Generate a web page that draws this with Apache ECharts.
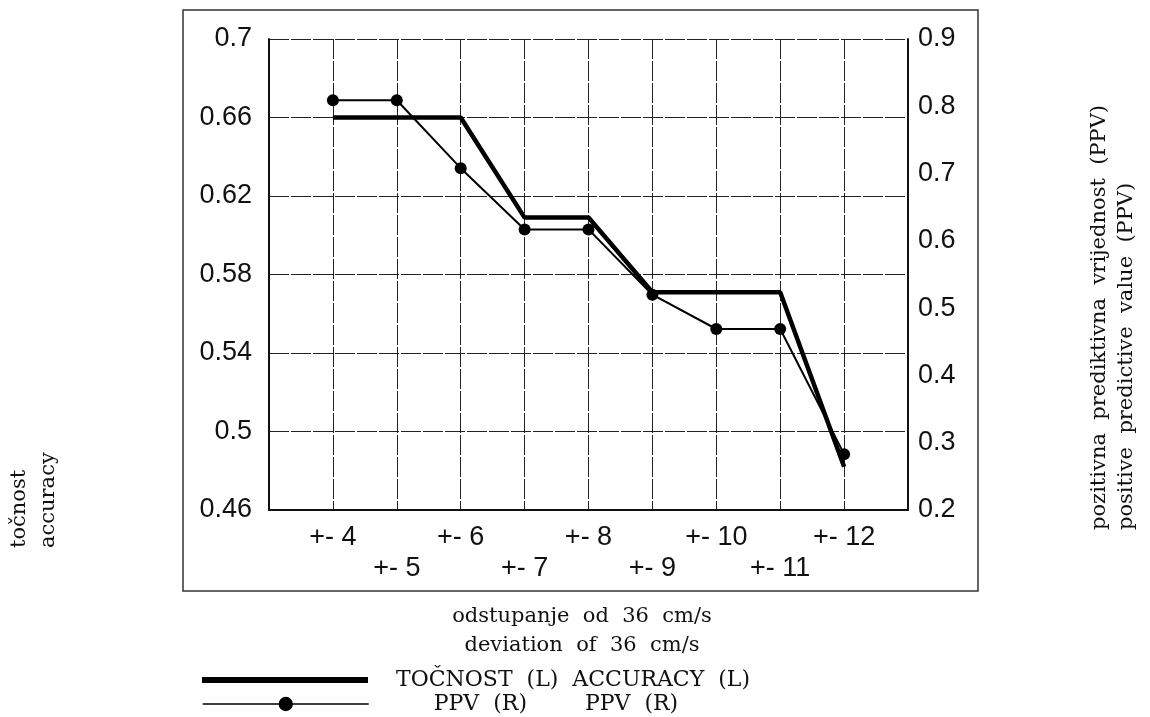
<!DOCTYPE html>
<html>
<head>
<meta charset="utf-8">
<script src="https://cdn.jsdelivr.net/npm/echarts@6/dist/echarts.min.js"></script>
<style>html,body{margin:0;padding:0;background:#fff;}#c{width:1150px;height:717px;}</style>
</head>
<body>
<div id="c"></div>
<script>
var deviations = [4, 5, 6, 7, 8, 9, 10, 11, 12];
var categories = ['+- 4', '+- 5', '+- 6', '+- 7', '+- 8', '+- 9', '+- 10', '+- 11', '+- 12'];
var accuracy = [0.66, 0.66, 0.66, 0.609, 0.609, 0.571, 0.571, 0.571, 0.482];
var ppv = [0.809, 0.809, 0.708, 0.617, 0.617, 0.52, 0.469, 0.469, 0.283];
var leftTicks = [0.46, 0.5, 0.54, 0.58, 0.62, 0.66, 0.7];
var rightTicks = [0.2, 0.3, 0.4, 0.5, 0.6, 0.7, 0.8, 0.9];

var serif = 'DejaVu Serif';
var sans = 'Liberation Sans';

function pairs(xs, ys) { return xs.map(function (x, i) { return [x, ys[i]]; }); }
function fmt(v) { return String(parseFloat((+v).toFixed(2))); }

var gridLine = { show: true, lineStyle: { color: '#222', width: 1, type: [20, 2] } };

var chart = echarts.init(document.getElementById('c'));
chart.setOption({
  backgroundColor: '#fff',
  animation: false,
  grid: { left: 269, right: 242, top: 39, bottom: 207 },
  xAxis: {
    type: 'value', min: 3, max: 13, interval: 1,
    axisLine: { show: true, lineStyle: { color: '#111', width: 2 } },
    axisTick: { show: false },
    splitLine: gridLine,
    axisLabel: {
      margin: 12, fontFamily: sans, fontSize: 27, color: '#111', lineHeight: 31,
      showMinLabel: true, showMaxLabel: true,
      formatter: function (v) {
        var i = deviations.indexOf(Math.round(v));
        if (i < 0) return '';
        return (i % 2 === 1 ? '\n' : '') + categories[i];
      }
    }
  },
  yAxis: [{
    type: 'value', min: leftTicks[0], max: leftTicks[leftTicks.length - 1], interval: 0.04,
    position: 'left',
    axisLine: { show: true, lineStyle: { color: '#111', width: 2 } },
    axisTick: { show: false },
    splitLine: gridLine,
    axisLabel: { margin: 17, fontFamily: sans, fontSize: 27, color: '#111', formatter: fmt }
  }, {
    type: 'value', min: rightTicks[0], max: rightTicks[rightTicks.length - 1], interval: 0.1,
    position: 'right',
    axisLine: { show: true, lineStyle: { color: '#111', width: 2 } },
    axisTick: { show: false },
    splitLine: { show: false },
    axisLabel: { margin: 10, fontFamily: sans, fontSize: 27, color: '#111', formatter: fmt }
  }],
  legend: [{
    orient: 'horizontal', left: 202, top: 669, padding: 0, itemWidth: 166, itemHeight: 6,
    icon: 'rect',
    formatter: function () { return '{a|TOČNOST  (L)  ACCURACY  (L)}'; },
    textStyle: {
      fontFamily: serif, fontSize: 22, color: '#111',
      rich: { a: { fontFamily: serif, fontSize: 22, color: '#111', padding: [0, 0, 0, 23] } }
    },
    data: [{ name: 'ACCURACY', itemStyle: { color: '#000' } }]
  }, {
    orient: 'horizontal', left: 202, top: 693, padding: 0, itemWidth: 166, itemHeight: 18,
    formatter: function () { return '{b|PPV  (R)}{c|PPV  (R)}'; },
    textStyle: {
      fontFamily: serif, fontSize: 22, color: '#111',
      rich: {
        b: { fontFamily: serif, fontSize: 22, color: '#111', padding: [0, 0, 0, 60] },
        c: { fontFamily: serif, fontSize: 22, color: '#111', padding: [0, 0, 0, 58] }
      }
    },
    data: [{ name: 'PPV', lineStyle: { width: 1.5 } }]
  }],
  series: [{
    name: 'ACCURACY', type: 'line', yAxisIndex: 0,
    data: pairs(deviations, accuracy),
    symbol: 'none',
    lineStyle: { color: '#000', width: 4.5 },
    itemStyle: { color: '#000' },
    z: 3
  }, {
    name: 'PPV', type: 'line', yAxisIndex: 1,
    data: pairs(deviations, ppv),
    symbol: 'circle', symbolSize: 12,
    lineStyle: { color: '#000', width: 2 },
    itemStyle: { color: '#000' },
    z: 4
  }],
  graphic: [
    { type: 'rect', shape: { x: 183, y: 10, width: 795, height: 581 }, style: { fill: 'none', stroke: '#333', lineWidth: 1.5 }, z: -1 },
    { type: 'text', x: 582, y: 631.5, style: { text: 'odstupanje  od  36  cm/s\ndeviation  of  36  cm/s', font: '21px "DejaVu Serif"', fill: '#111', align: 'center', verticalAlign: 'middle', lineHeight: 29 } },
    { type: 'text', x: 34, y: 548, rotation: Math.PI / 2, style: { text: 'točnost\naccuracy', font: '21px "DejaVu Serif"', fill: '#111', align: 'left', verticalAlign: 'middle', lineHeight: 28.5 } },
    { type: 'text', x: 1113.5, y: 530, rotation: Math.PI / 2, style: { text: 'pozitivna  prediktivna  vrijednost  (PPV)\npositive  predictive  value  (PPV)', font: '21px "DejaVu Serif"', fill: '#111', align: 'left', verticalAlign: 'middle', lineHeight: 27 } }
  ]
});
</script>
</body>
</html>
